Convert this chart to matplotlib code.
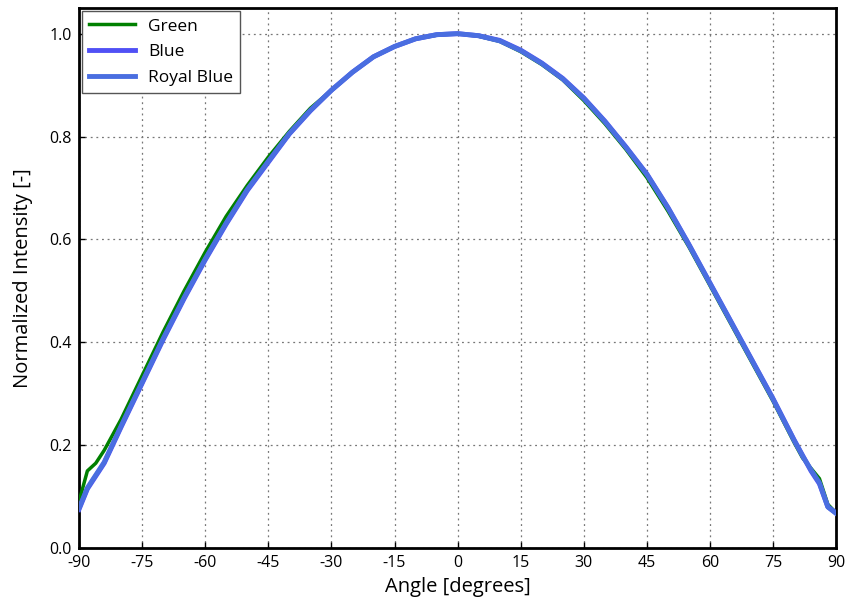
import matplotlib
matplotlib.use("Agg")
import matplotlib.pyplot as plt

angles = [-90, -88, -86, -84, -82, -80, -75, -70, -65, -60, -55, -50, -45, -40, -35, -30,
          -25, -20, -15, -10, -5, 0, 5, 10, 15, 20, 25, 30, 35, 40, 45, 50, 55, 60, 65,
          70, 75, 80, 82, 84, 86, 88, 90]
green = [0.09, 0.15, 0.165, 0.19, 0.22, 0.25, 0.335, 0.42, 0.50, 0.575, 0.645, 0.705, 0.76,
         0.81, 0.855, 0.89, 0.925, 0.955, 0.975, 0.99, 0.997, 1.0, 0.995, 0.985, 0.965, 0.94,
         0.91, 0.87, 0.825, 0.775, 0.72, 0.655, 0.585, 0.51, 0.435, 0.36, 0.285, 0.205, 0.175,
         0.155, 0.135, 0.085, 0.068]
blue = [0.075, 0.115, 0.14, 0.165, 0.2, 0.235, 0.32, 0.405, 0.485, 0.56, 0.63, 0.695, 0.75,
        0.805, 0.85, 0.89, 0.925, 0.955, 0.975, 0.99, 0.998, 1.0, 0.996, 0.987, 0.968, 0.943,
        0.913, 0.875, 0.83, 0.78, 0.727, 0.662, 0.59, 0.515, 0.44, 0.365, 0.29, 0.21, 0.18,
        0.15, 0.125, 0.08, 0.068]
royal = [0.077, 0.117, 0.142, 0.167, 0.202, 0.237, 0.322, 0.407, 0.487, 0.562, 0.632, 0.697,
         0.752, 0.806, 0.851, 0.89, 0.925, 0.955, 0.975, 0.99, 0.998, 1.0, 0.996, 0.986, 0.967,
         0.942, 0.912, 0.874, 0.829, 0.779, 0.726, 0.661, 0.589, 0.514, 0.439, 0.364, 0.289,
         0.209, 0.179, 0.152, 0.127, 0.08, 0.067]
xticks = [-90, -75, -60, -45, -30, -15, 0, 15, 30, 45, 60, 75, 90]

plt.rcParams['font.family'] = ['Open Sans', 'DejaVu Sans']
fig = plt.figure(figsize=(8.49, 6.11), dpi=100)
ax = fig.add_axes([0.093, 0.103, 0.892, 0.884])

ax.plot(angles, green, color='#008000', lw=2.5, label='Green', zorder=3)
ax.plot(angles, blue, color='#5050f5', lw=3.5, label='Blue', zorder=4)
ax.plot(angles, royal, color='#4a6ee0', lw=3.5, label='Royal Blue', zorder=5)

ax.set_xlim(-90, 90)
ax.set_ylim(0, 1.05)
ax.set_xticks(xticks)
ax.set_xticklabels([str(t) for t in xticks])
ax.set_yticks([0.0, 0.2, 0.4, 0.6, 0.8, 1.0])
ax.set_yticklabels(['0.0', '0.2', '0.4', '0.6', '0.8', '1.0'])
ax.tick_params(direction='in', labelsize=11.5, length=4, width=1, pad=5)
ax.grid(True, linestyle=(0, (1.5, 3)), color='#777777', lw=0.9)
for s in ax.spines.values():
    s.set_linewidth(2)
    s.set_color('black')
ax.set_xlabel('Angle [degrees]', fontsize=14.5, labelpad=4)
ax.set_ylabel('Normalized Intensity [-]', fontsize=14.5, labelpad=12)
leg = ax.legend(loc='upper left', fontsize=12.5, fancybox=False, framealpha=1,
                edgecolor='#555555', borderaxespad=0.2, handlelength=2.6,
                labelspacing=0.55)
leg.get_frame().set_linewidth(1)
fig.savefig('out.png', dpi=100)
